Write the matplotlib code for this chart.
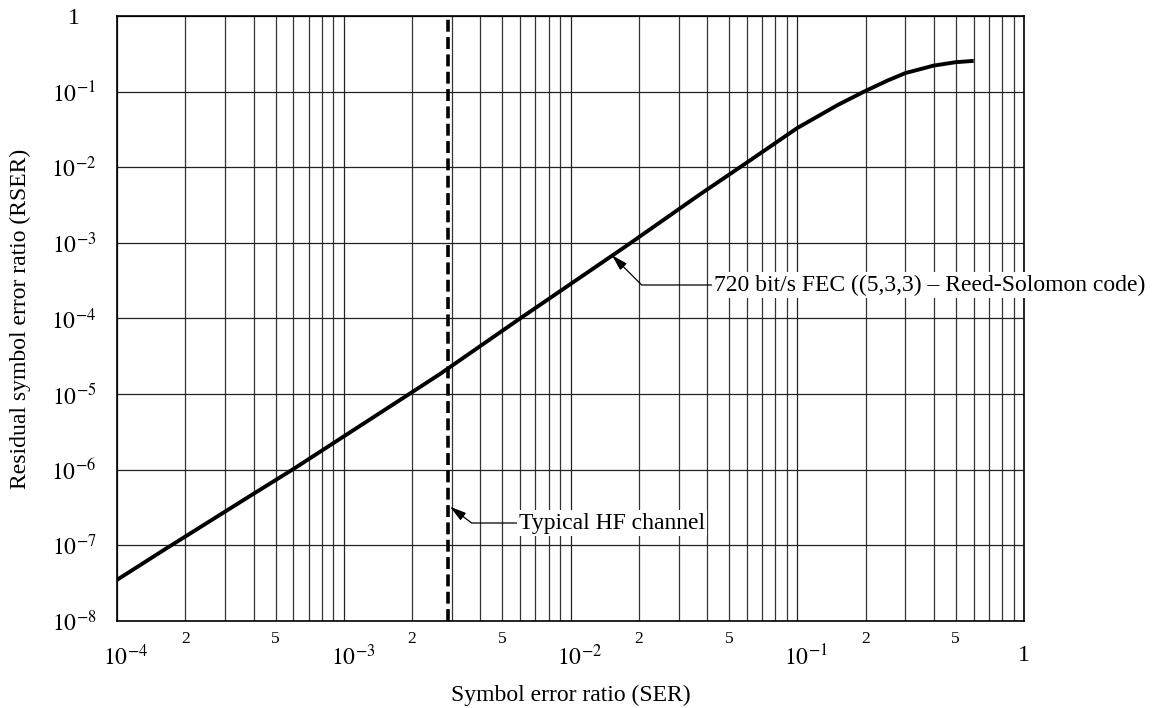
import numpy as np
import matplotlib.pyplot as plt
from matplotlib.ticker import FixedLocator
from matplotlib.transforms import ScaledTranslation

plt.rcParams['font.family'] = ['Liberation Serif', 'DejaVu Serif']
plt.rcParams['mathtext.fontset'] = 'stix'

# curve (SER -> RSER)
ser = [1e-4, 1.61e-4, 3.86e-4, 5.99e-4, 1.99e-3, 2.66e-3, 5.99e-3, 0.01064, 0.0178,
       0.0372, 0.0559, 0.1, 0.15, 0.197, 0.25, 0.3, 0.4, 0.5, 0.6]
rser = [3.5e-8, 8.7e-8, 4.5e-7, 1.02e-6, 1.05e-5, 1.85e-5, 1.0e-4, 3.24e-4, 9.3e-4,
        4.37e-3, 1.0e-2, 3.3e-2, 6.6e-2, 0.1, 0.14, 0.176, 0.221, 0.245, 0.255]

hf_ser = 2.89e-3
fec_label = '720 bit/s FEC ((5,3,3) \u2013 Reed-Solomon code)'
fec_point = (0.0152, 6.9e-4)
hf_label = 'Typical HF channel'
hf_point = (2.94e-3, 3.25e-7)

x_major = [1e-4, 1e-3, 1e-2, 1e-1, 1]
x_major_labels = [r'$10^{-4}$', r'$10^{-3}$', r'$10^{-2}$', r'$10^{-1}$', '1']
y_major = [10.0 ** k for k in range(-8, 1)]
y_major_labels = [r'$10^{%d}$' % k for k in range(-8, 0)] + ['1']

fig = plt.figure(figsize=(11.61, 7.08), dpi=100)
ax = fig.add_axes([0.1008, 0.1229, 0.7812, 0.8545])

ax.set_xscale('log')
ax.set_yscale('log')
ax.set_xlim(1e-4, 1)
ax.set_ylim(1e-8, 1)

# grid: every 1..9 on x, decades only on y
x_minor = [m * 10.0 ** d for d in range(-4, 0) for m in range(2, 10)]
minor_labels = [str(m) if m in (2, 5) else '' for d in range(-4, 0) for m in range(2, 10)]
ax.xaxis.set_major_locator(FixedLocator(x_major))
ax.yaxis.set_major_locator(FixedLocator(y_major))
ax.yaxis.set_minor_locator(FixedLocator([]))
ax.set_xticklabels(x_major_labels)
ax.set_yticklabels(y_major_labels, ha='center')
ax.set_xticks(x_minor, minor_labels, minor=True)

ax.grid(True, which='major', axis='both', color='#222222', linewidth=0.9)
ax.grid(True, which='minor', axis='x', color='#333333', linewidth=0.9)
ax.set_axisbelow(True)

ax.tick_params(axis='x', which='major', length=0, pad=17, labelsize=17)
ax.tick_params(axis='x', which='minor', length=0, pad=7.5, labelsize=12.5)
ax.tick_params(axis='y', which='major', length=0, pad=31, labelsize=17)
for s in ax.spines.values():
    s.set_linewidth(1.2)

# decade labels: the "10" sits on the grid line, exponent hangs to the right
shift = ScaledTranslation(9 / 100, 0, fig.dpi_scale_trans)
for lbl in ax.get_xticklabels()[:-1]:
    lbl.set_transform(lbl.get_transform() + shift)

ax.plot(ser, rser, color='black', linewidth=2.8, solid_capstyle='butt',
        solid_joinstyle='round')
ax.axvline(hf_ser, color='black', linewidth=2.6, dashes=(3.3, 1.5))

arrow = dict(arrowstyle='-|>,head_length=0.9,head_width=0.25', color='black', lw=0.9,
             mutation_scale=11, shrinkA=0, shrinkB=0)
ax.annotate(fec_label, xy=fec_point, xytext=(714, 708 - 285), textcoords='figure pixels',
            fontsize=17, va='center', ha='left',
            bbox=dict(boxstyle='square,pad=0.1', fc='white', ec='none'),
            arrowprops=dict(connectionstyle='angle,angleA=0,angleB=-45,rad=0', **arrow))
ax.annotate(hf_label, xy=hf_point, xytext=(519, 708 - 523), textcoords='figure pixels',
            fontsize=17, va='center', ha='left',
            bbox=dict(boxstyle='square,pad=0.1', fc='white', ec='none'),
            arrowprops=dict(connectionstyle='angle,angleA=0,angleB=-37,rad=0', **arrow))

ax.set_xlabel('Symbol error ratio (SER)', fontsize=17, va='center')
ax.xaxis.set_label_coords(0.5, (621 - 695) / 605)
ax.set_ylabel('Residual symbol error ratio (RSER)', fontsize=17, va='center')
ax.yaxis.set_label_coords((20 - 117) / 907, 0.5)

fig.savefig('out.png', dpi=100)
